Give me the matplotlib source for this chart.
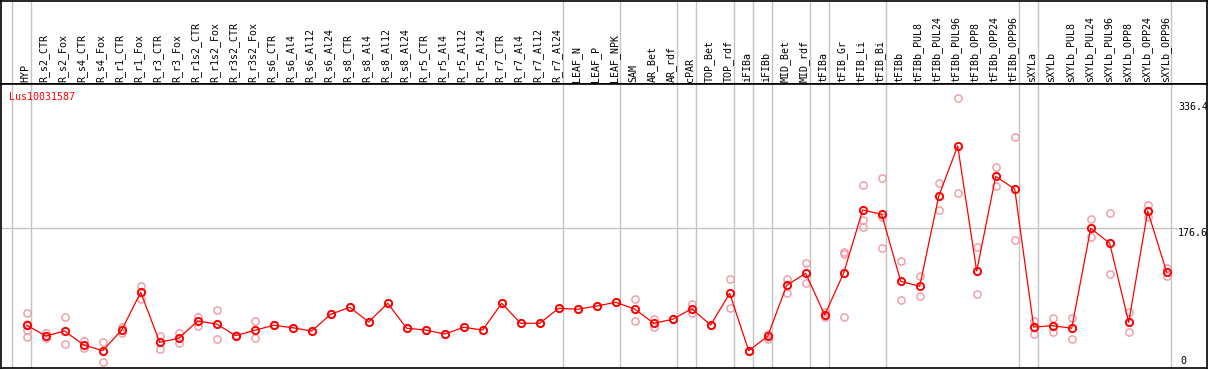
"""Expression profile of Lus10031587 across tissues."""

import numpy as np
from matplotlib import pyplot as plt

gene_id = 'Lus10031587'

samples = ['HYP', 'R_s2_CTR', 'R_s2_Fox', 'R_s4_CTR', 'R_s4_Fox', 'R_r1_CTR', 'R_r1_Fox',
           'R_r3_CTR', 'R_r3_Fox', 'R_r1s2_CTR', 'R_r1s2_Fox', 'R_r3s2_CTR', 'R_r3s2_Fox',
           'R_s6_CTR', 'R_s6_Al4', 'R_s6_Al12', 'R_s6_Al24', 'R_s8_CTR', 'R_s8_Al4', 'R_s8_Al12',
           'R_s8_Al24', 'R_r5_CTR', 'R_r5_Al4', 'R_r5_Al12', 'R_r5_Al24', 'R_r7_CTR', 'R_r7_Al4',
           'R_r7_Al12', 'R_r7_Al24', 'LEAF_N', 'LEAF_P', 'LEAF_NPK', 'SAM', 'AR_Bet', 'AR_rdf',
           'cPAR', 'TOP_Bet', 'TOP_rdf', 'iFIBa', 'iFIBb', 'MID_Bet', 'MID_rdf', 'tFIBa',
           'tFIB_Gr', 'tFIB_Li', 'tFIB_Bi', 'tFIBb', 'tFIBb_PUL8', 'tFIBb_PUL24', 'tFIBb_PUL96',
           'tFIBb_OPP8', 'tFIBb_OPP24', 'tFIBb_OPP96', 'sXYLa', 'sXYLb', 'sXYLb_PUL8',
           'sXYLb_PUL24', 'sXYLb_PUL96', 'sXYLb_OPP8', 'sXYLb_OPP24', 'sXYLb_OPP96']

# mean expression per sample
means = [53.6, 39.7, 46.0, 28.3, 21.1, 47.3, 95.1, 31.7, 36.8, 58.7, 54.9, 40.1, 46.9,
         53.3, 50.2, 46.0, 67.2, 76.1, 57.5, 81.2, 49.5, 47.3, 42.2, 50.7, 47.3, 81.2, 55.8,
         55.8, 74.8, 73.6, 77.7, 82.4, 73.9, 55.8, 60.9, 74.3, 53.6, 93.8, 21.1, 39.3,
         104.0, 119.2, 66.3, 119.6, 199.5, 194.0, 109.1, 102.7, 216.9, 280.7, 122.1, 242.2,
         226.1, 51.1, 52.8, 49.5, 176.3, 157.3, 57.1, 198.2, 120.5]

# individual replicates per sample
replicates = [
    [68.5, 54.9, 47.3, 38.8], [43.1, 37.2], [63.4, 29.2], [33.7, 24.1], [31.7, 7.1],
    [51.5, 43.1], [103.1, 86.2], [39.7, 23.6], [43.1, 31.2], [64.2, 52.4], [72.7, 35.5],
    [41.0, 39.2], [58.7, 36.8],
    [53.3], [50.2], [46.0], [67.2], [76.1], [57.5], [81.2], [49.5], [47.3], [42.2], [50.7],
    [47.3], [81.2], [55.8], [55.8], [74.8], [73.6], [77.7], [82.4],
    [86.2, 58.3], [60.9, 50.7], [60.9], [80.3, 69.2], [53.6], [111.6, 75.6], [21.1],
    [42.2, 36.4], [111.6, 94.6], [131.9, 106.5], [70.1, 63.4], [146.6, 143.7, 64.2],
    [230.8, 186.8, 178.3], [239.7, 191.0, 150.9], [134.4, 85.0], [115.4, 90.0],
    [233.4, 199.1], [341.2, 220.7], [152.2, 92.6], [253.6, 230.3], [291.7, 161.1],
    [59.1, 41.9], [62.5, 44.4], [62.5, 35.9], [187.7, 164.9], [195.3, 118.3],
    [69.8, 44.4], [205.8, 191.0], [126.3, 115.4]]

# sample index where a new group starts (gray separators)
group_starts = [0, 1, 29, 32, 35, 36, 38, 39, 40, 42, 43, 46, 53, 54, 61]

y_ticks = [0, 176.6, 336.4]

W, H = 1209, 370
fig = plt.figure(figsize=(W / 100, H / 100), dpi=100)
mono = 'DejaVu Sans Mono'
red = '#ff0000'
light = '#f0a0a8'
gray = '#c4c4c4'

# pixel helpers: column i sits at x = 26.7 + 19 * i
x0_px, dx_px = 26.7, 19.0
left_px, right_px = 1, 1207
header_px, bottom_px = 84, 368
y0_px, scale = 367.3, 0.7885


def col(px):
    return (px - x0_px) / dx_px


def val(py):
    return (y0_px - py) / scale


xlim = (col(left_px), col(right_px))

ax_h = fig.add_axes([left_px / W, 1 - header_px / H, (right_px - left_px) / W, (header_px - 1) / H])
ax = fig.add_axes([left_px / W, 1 - bottom_px / H, (right_px - left_px) / W, (bottom_px - header_px) / H])

for a in (ax_h, ax):
    a.set_xlim(*xlim)
    a.set_xticks([])
    a.set_yticks([])
    for s in a.spines.values():
        s.set_color('black')
        s.set_linewidth(1.2)
ax_h.set_ylim(0, 1)
ax.set_ylim(val(bottom_px), val(header_px))

sep = 14.5 / dx_px
for g in group_starts:
    ax_h.axvline(g - sep, color=gray, lw=1, zorder=0)
    ax.axvline(g - sep, color=gray, lw=1, zorder=0)

ax.plot([xlim[0], col(1177)], [y_ticks[1], y_ticks[1]], color=gray, lw=1, zorder=0)

# sample labels
for i, name in enumerate(samples):
    ax_h.text(i - 1.5 / dx_px, 2 / (header_px - 1), name, rotation=90, ha='center', va='bottom',
              fontsize=7.2, family=mono, color='black')

idx = np.arange(len(samples))
for i, reps in enumerate(replicates):
    ax.plot([i] * len(reps), reps, 'o', ms=5.2, mfc='none', mec=light, mew=1.1, zorder=2)
ax.plot(idx, means, '-', color=red, lw=0.9, zorder=3)
ax.plot(idx, means, 'o', ms=5.2, mfc='none', mec=red, mew=1.4, zorder=4)

# value labels on the right side
ax.text(col(1178), y_ticks[2], '336.4', ha='left', va='top', fontsize=7.2, family=mono)
ax.text(col(1178), y_ticks[1], '176.6', ha='left', va='top', fontsize=7.2, family=mono)
ax.text(col(1180), val(366), '0', ha='left', va='bottom', fontsize=7.2, family=mono)

ax.text(col(9), val(92), gene_id, ha='left', va='top', fontsize=7.2, family=mono, color=red)

fig.savefig('out.png', dpi=100)
